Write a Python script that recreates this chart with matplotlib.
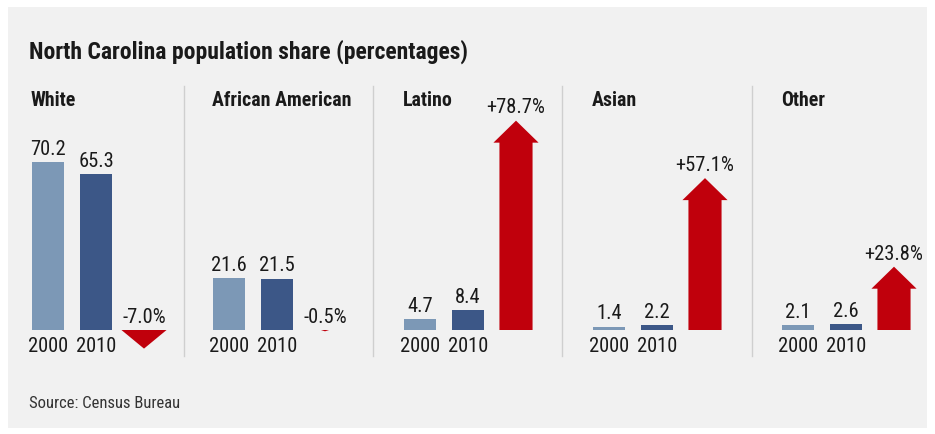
import matplotlib
matplotlib.use('Agg')
import matplotlib.pyplot as plt
from matplotlib.patches import Rectangle

# ---------------- data ----------------
title = "North Carolina population share (percentages)"
groups = ["White", "African American", "Latino", "Asian", "Other"]
years = ["2000", "2010"]
share_2000 = [70.2, 21.6, 4.7, 1.4, 2.1]
share_2010 = [65.3, 21.5, 8.4, 2.2, 2.6]
pct_change = [-7.0, -0.5, 78.7, 57.1, 23.8]
change_labels = ["-7.0%", "-0.5%", "+78.7%", "+57.1%", "+23.8%"]
source = "Source: Census Bureau"

# ---------------- style ----------------
FONT = ['Roboto Condensed', 'Liberation Sans Narrow', 'Roboto', 'DejaVu Sans']
plt.rcParams['font.family'] = FONT
LIGHT = '#7c98b6'
DARK = '#3c5787'
RED = '#c0000c'
BG = '#f1f1f1'
TXT = '#1a1a1a'
NUM_FS = 14.8

W, H = 935, 435
fig = plt.figure(figsize=(W / 100, H / 100), dpi=100)
fig.patch.set_facecolor('white')

bg = fig.add_axes([0, 0, 1, 1])
bg.set_xlim(0, W)
bg.set_ylim(H, 0)
bg.axis('off')
bg.add_patch(Rectangle((8, 8), 919, 421, color=BG, zorder=0, lw=0))

bg.text(29, 52, title, fontsize=17, fontweight='bold', color=TXT,
        ha='left', va='center')
bg.text(29, 404, source, fontsize=12, color='#333333', ha='left', va='center')

# separators
for sx in [184, 373, 562, 752]:
    bg.plot([sx, sx], [87, 357], color='#cfcfcf', lw=1, zorder=1)

# panel layout (pixels)
panel_left = [24, 205, 396, 585, 774]
slot = 48
ax_top, ax_bot, base = 90, 365, 331
k_bar = 2.39    # px per share unit
k_arr = 2.66    # px per change unit
head_px = 22

for i, g in enumerate(groups):
    left = panel_left[i]
    rect = [left / W, (H - ax_bot) / H, 3 * slot / W, (ax_bot - ax_top) / H]
    ax = fig.add_axes(rect)
    ax.set_facecolor('none')
    ax.set_xlim(-0.5, 2.5)
    ax.set_ylim(-(ax_bot - base) / k_bar, (base - ax_top) / k_bar)
    ax.axis('off')

    vals = [share_2000[i], share_2010[i]]
    ax.bar([0, 1], vals, width=0.667, color=[LIGHT, DARK], lw=0)
    for x, v, yr in zip([0, 1], vals, years):
        ax.annotate(f"{v:.1f}", (x, v), xytext=(0, 3), textcoords='offset points',
                    ha='center', va='bottom', fontsize=NUM_FS, color=TXT)
        ax.annotate(yr, (x, 0), xytext=(0, -4), textcoords='offset points',
                    ha='center', va='top', fontsize=NUM_FS, color=TXT)

    # header, left-aligned with the first bar
    bg.text(left + slot / 2 - 17, 101, g, fontsize=14.3,
            fontweight='bold', color=TXT, ha='left', va='center')

    ax2 = ax.twinx()
    ax2.set_facecolor('none')
    ax2.set_ylim(-(ax_bot - base) / k_arr, (base - ax_top) / k_arr)
    ax2.axis('off')
    v = pct_change[i]
    full_head = head_px / k_arr
    hl = min(full_head, abs(v))
    hw = 0.94 * min(1.0, 3 * hl / full_head)
    ax2.arrow(2, 0, 0, v, width=min(0.69, hw), head_width=hw, head_length=hl,
              length_includes_head=True, color=RED, lw=0)
    ax2.annotate(change_labels[i], (2, max(v, 0)), xytext=(0, 3),
                 textcoords='offset points', ha='center', va='bottom',
                 fontsize=NUM_FS, color=TXT)

fig.savefig('out.png', dpi=100, facecolor='white')
